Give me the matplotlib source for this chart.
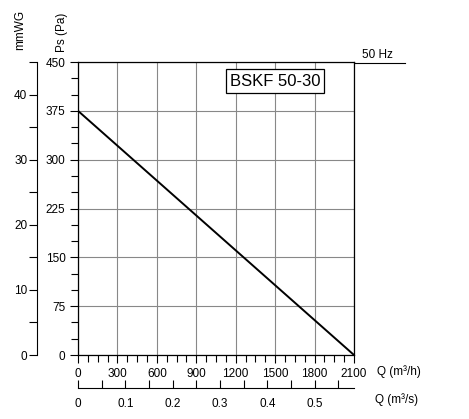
import numpy as np
import matplotlib.pyplot as plt
from matplotlib.ticker import MultipleLocator

plt.rcParams['font.family'] = ['Liberation Sans', 'DejaVu Sans']
plt.rcParams['font.size'] = 8.5

flow_m3h = [0, 2100]
pressure_pa = [375, 0]
model = "BSKF 50-30"

W, H = 469, 419
fig = plt.figure(figsize=(W / 100, H / 100), dpi=100)
x0, x1, y0, y1 = 78, 354, 62, 355
ax = fig.add_axes([x0 / W, 1 - y1 / H, (x1 - x0) / W, (y1 - y0) / H])
ax.plot(flow_m3h, pressure_pa, color='black', lw=1.4)
ax.set_xlim(0, 2100)
ax.set_ylim(0, 450)
ax.xaxis.set_major_locator(MultipleLocator(300))
ax.xaxis.set_minor_locator(MultipleLocator(75))
ax.yaxis.set_major_locator(MultipleLocator(75))
ax.yaxis.set_minor_locator(MultipleLocator(25))
ax.grid(True, which='major', color='#888888', lw=0.8)
ax.tick_params(which='both', direction='out', length=6, width=0.8, pad=3)
ax.tick_params(which='minor', length=5)
for s in ax.spines.values():
    s.set_linewidth(0.9)

fig.text(377 / W, 1 - 372 / H, 'Q (m³/h)', ha='left', va='center')
fig.text(62 / W, 1 - 52 / H, 'Ps (Pa)', rotation=90, ha='center', va='bottom')
fig.text(20 / W, 1 - 50 / H, 'mmWG', rotation=90, ha='center', va='bottom')
ax.text(0.55, 0.935, model, transform=ax.transAxes, ha='left', va='center', fontsize=12,
        bbox=dict(boxstyle='square,pad=0.25', fc='white', ec='black', lw=0.9))

# mmWG axis
ax2 = fig.add_axes([37 / W, 1 - y1 / H, 0.001, (y1 - y0) / H])
ax2.set_ylim(0, 45)
for k in ['top', 'right', 'bottom']:
    ax2.spines[k].set_visible(False)
ax2.set_xticks([])
ax2.yaxis.set_major_locator(MultipleLocator(10))
ax2.yaxis.set_minor_locator(MultipleLocator(5))
ax2.tick_params(axis='y', which='both', direction='out', length=6, width=0.8, pad=1)

# m3/s axis
ax3 = fig.add_axes([x0 / W, 1 - 388 / H, (x1 - x0) / W, 0.001])
ax3.set_xlim(0, 2100 / 3600)
for k in ['left', 'right', 'top']:
    ax3.spines[k].set_visible(False)
ax3.set_yticks([])
ax3.xaxis.set_major_locator(MultipleLocator(0.1))
ax3.xaxis.set_minor_locator(MultipleLocator(0.05))
ax3.xaxis.set_major_formatter(lambda v, p: f'{v:g}')
ax3.tick_params(axis='x', which='both', direction='in', length=6, width=0.8, pad=7)
fig.text(375 / W, 1 - 400 / H, 'Q (m³/s)', ha='left', va='center')

fig.text(362 / W, 1 - 55 / H, '50 Hz', ha='left', va='center')
fig.add_artist(plt.Line2D([355 / W, 405 / W], [1 - 63 / H] * 2, color='black', lw=0.8))

fig.savefig('out.png', dpi=100)
